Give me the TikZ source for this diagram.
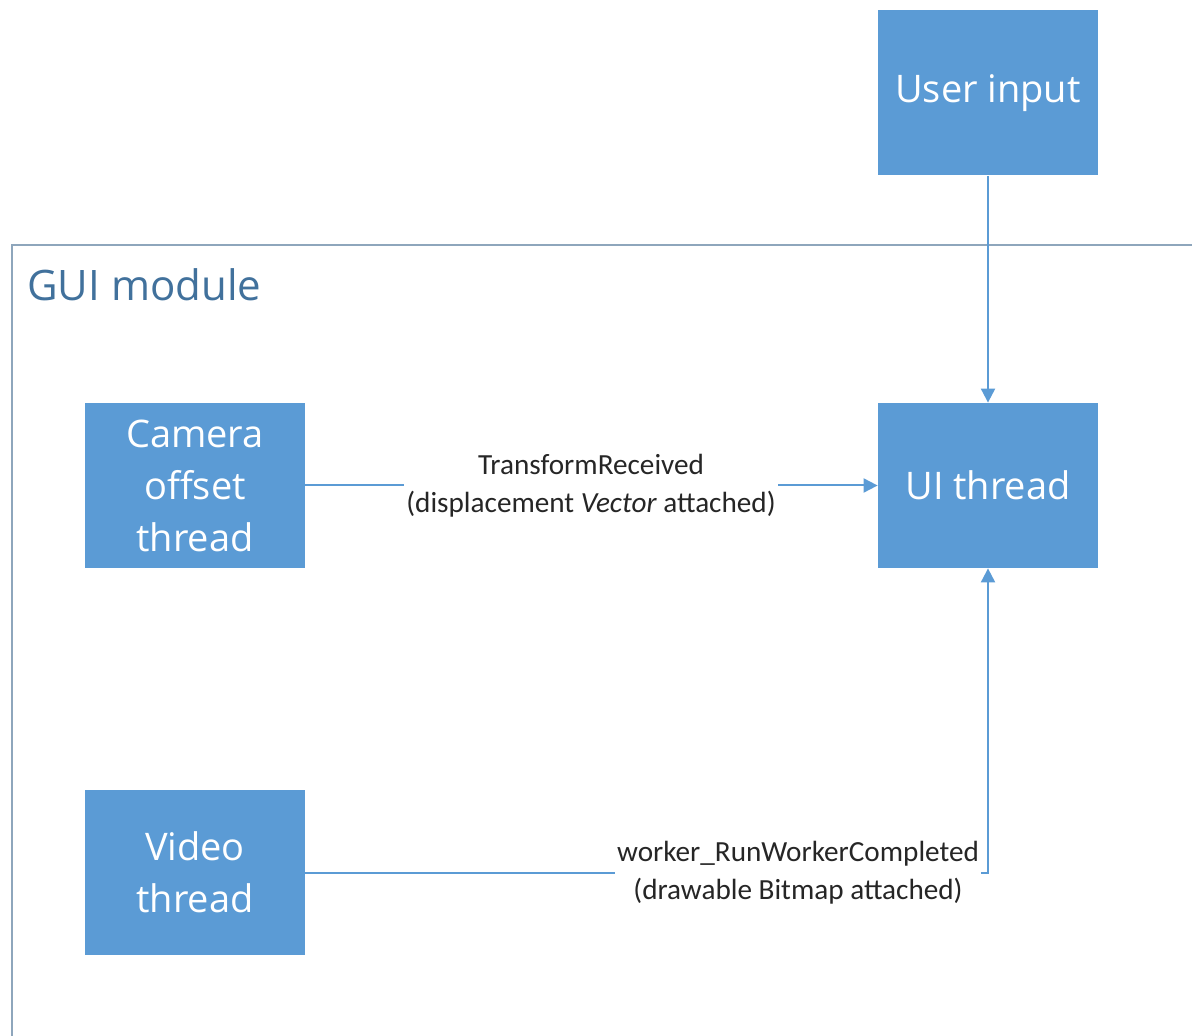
\documentclass[tikz,border=0pt]{standalone}
\usepackage{fontspec}
\setmainfont{Open Sans}
\newfontfamily\lblfont{Carlito}
\usetikzlibrary{arrows.meta}
\definecolor{boxblue}{HTML}{5B9BD5}
\definecolor{framecol}{HTML}{8EA6BC}
\definecolor{titlecol}{HTML}{41719C}
\begin{document}
\begin{tikzpicture}[x=0.5pt,y=-0.5pt,
 blk/.style={fill=boxblue, text=white, minimum width=110pt, minimum height=82.5pt, inner sep=0pt, align=center, font=\fontsize{19}{26}\selectfont},
 conn/.style={draw=boxblue, line width=1pt, -{Triangle[length=7pt,width=7pt]}},
 lbl/.style={fill=white, inner sep=1pt, align=center, font=\lblfont\fontsize{14.6}{19}\selectfont, text=black!85}]
\useasboundingbox (0,0) rectangle (1192,1036);
\draw[framecol, line width=1pt] (1192,245) -- (12,245) -- (12,1036);
\node[anchor=base west, text=titlecol, inner sep=0pt, font=\fontsize{21}{24}\selectfont] (gui) at (27,301) {GUI module};
\node[blk] (user) at (988,93) {User input};
\node[blk] (ui) at (988,485.5) {UI thread};
\node[blk] (cam) at (195,485.5) {Camera\\offset\\thread};
\node[blk] (vid) at (195,872.5) {Video\\thread};
\draw[conn] (user) -- (ui);
\draw[conn] (cam) -- (ui);
\draw[conn] (vid) -| (ui);
\node[lbl] (t1) at (591,486) {TransformReceived\\(displacement \textit{Vector} attached)};
\node[lbl] (t2) at (798,873) {worker\_RunWorkerCompleted\\(drawable Bitmap attached)};
\end{tikzpicture}
\end{document}
